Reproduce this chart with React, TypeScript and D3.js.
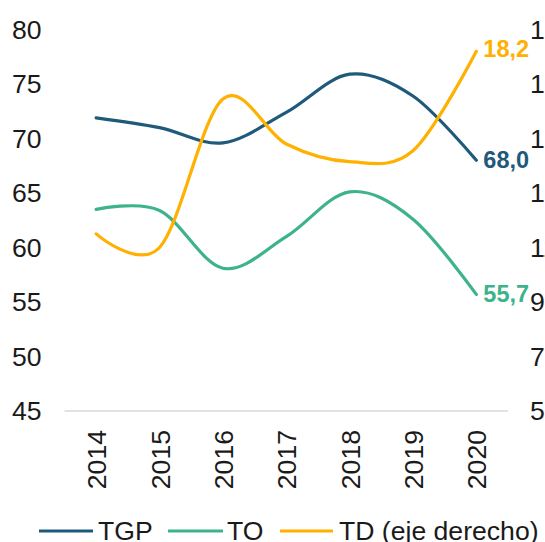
import React from "react";
import * as d3 from "d3";

const years = ["2014", "2015", "2016", "2017", "2018", "2019", "2020"];
const tgp = [71.9, 71.0, 69.6, 72.4, 75.9, 73.9, 68.0];
const to = [63.5, 63.4, 58.1, 61.0, 65.1, 62.6, 55.7];
const td = [11.5, 11.0, 16.45, 14.8, 14.15, 14.55, 18.2];
const leftTicks = [45, 50, 55, 60, 65, 70, 75, 80];
const rightTicks = [5, 7, 9, 11, 13, 15, 17, 19];
const lastLabels = ["68,0", "55,7", "18,2"];
const legendNames = ["TGP", "TO", "TD (eje derecho)"];

const COLORS = ["#1F5A7A", "#3DB38B", "#FFB000"];
const FONT = "'Liberation Sans', Arial, sans-serif";
const FS = 26.6;

export default function App() {
  const W = 545, H = 542;
  const x = d3.scalePoint<string>().domain(years).range([64.5, 508]).padding(0.5);
  const yL = d3.scaleLinear().domain([45, 80]).range([411, 29.5]);
  const yR = d3.scaleLinear().domain([5, 19]).range([411, 29.5]);
  const curve = d3.curveCardinal.tension(0);
  const lineL = d3.line<number>().x((_, i) => x(years[i])!).y((d) => yL(d)).curve(curve);
  const lineR = d3.line<number>().x((_, i) => x(years[i])!).y((d) => yR(d)).curve(curve);
  const last = years[years.length - 1];
  const lastYs = [yL(tgp[6]), yL(to[6]), yR(td[6])];
  const legendX = [[39, 93, 98], [168, 223, 227], [280, 333, 339]];
  return (
    <svg width={W} height={H} style={{ position: "absolute", left: 0, top: 0 }} fontFamily={FONT}>
      <rect width={W} height={H} fill="#fff" />
      <line x1={64.5} x2={508} y1={yL(45)} y2={yL(45)} stroke="#D9D9D9" strokeWidth={1.5} />
      {leftTicks.map((t) => (
        <text key={"l" + t} x={41.5} y={yL(t)} textAnchor="end" dominantBaseline="central" fontSize={FS} fill="#1a1a1a">{t}</text>
      ))}
      {rightTicks.map((t) => (
        <text key={"r" + t} x={530} y={yR(t)} textAnchor="start" dominantBaseline="central" fontSize={FS} fill="#1a1a1a">{t}</text>
      ))}
      {years.map((yr) => (
        <text key={yr} transform={`translate(${x(yr)! + 1},${430}) rotate(-90)`} textAnchor="end" dominantBaseline="central" fontSize={FS} fill="#1a1a1a">{yr}</text>
      ))}
      <path d={lineL(tgp)!} fill="none" stroke={COLORS[0]} strokeWidth={3.2} strokeLinecap="round" />
      <path d={lineL(to)!} fill="none" stroke={COLORS[1]} strokeWidth={3.2} strokeLinecap="round" />
      <path d={lineR(td)!} fill="none" stroke={COLORS[2]} strokeWidth={3.2} strokeLinecap="round" />
      {lastLabels.map((l, i) => (
        <text key={l} x={x(last)! + 7} y={lastYs[i] - (i === 2 ? 2 : 0)} dominantBaseline="central" fontSize={23.5} fontWeight="bold" fill={COLORS[i]}>{l}</text>
      ))}
      {legendNames.map((n, i) => (
        <g key={n}>
          <line x1={legendX[i][0]} x2={legendX[i][1]} y1={531} y2={531} stroke={COLORS[i]} strokeWidth={3.2} />
          <text x={legendX[i][2]} y={531} dominantBaseline="central" fontSize={FS} fill="#1a1a1a">{n}</text>
        </g>
      ))}
    </svg>
  );
}
